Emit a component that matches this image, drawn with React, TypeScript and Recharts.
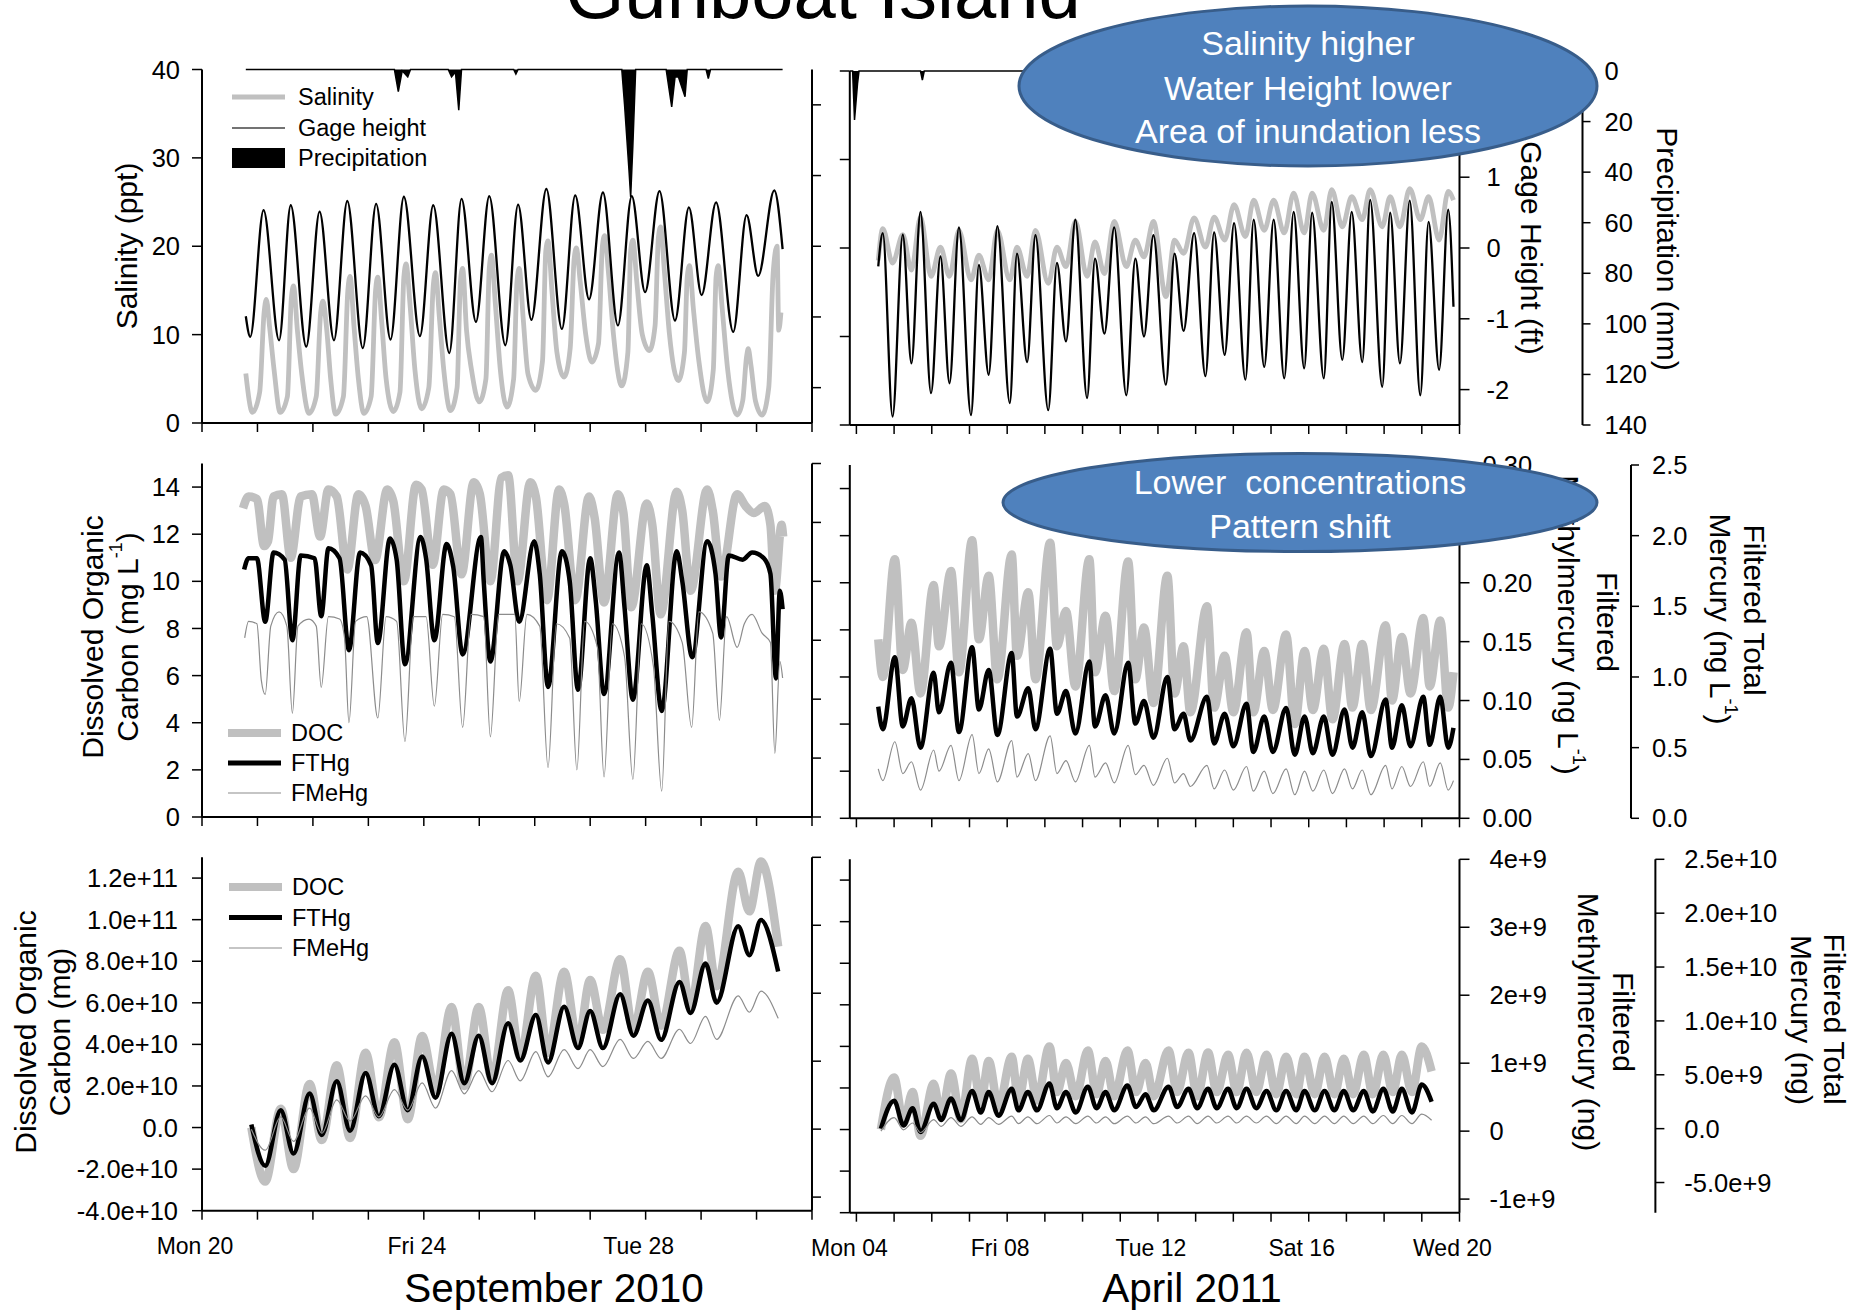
import React from 'react';
import { ComposedChart, Line, Area, XAxis, YAxis } from 'recharts';

const FONT = 'Liberation Sans, Arial, Helvetica, sans-serif';

// x values are days since the first labelled midnight of each period
const sepDayTicks = [0, 1, 2, 3, 4, 5, 6, 7, 8, 9, 10, 11];
const sepDayLabels: Record<number, string> = { 0: 'Mon 20', 4: 'Fri 24', 8: 'Tue 28' };
const aprDayTicks = [0, 1, 2, 3, 4, 5, 6, 7, 8, 9, 10, 11, 12, 13, 14, 15, 16];
const aprDayLabels: Record<number, string> = { 0: 'Mon 04', 4: 'Fri 08', 8: 'Tue 12', 12: 'Sat 16', 16: 'Wed 20' };

// ---------- September 2010, hydrology ----------
const sepGage = [
  [0.79, -0.99], [0.87, -1.28], [1.11, 0.51], [1.39, -1.33], [1.60, 0.58], [1.88, -1.42], [2.12, 0.49], [2.38, -1.33],
  [2.62, 0.64], [2.90, -1.44], [3.14, 0.60], [3.40, -1.32], [3.64, 0.70], [3.93, -1.27], [4.17, 0.58], [4.46, -1.51],
  [4.68, 0.67], [4.94, -1.07], [5.18, 0.71], [5.47, -1.40], [5.70, 0.59], [5.94, -1.04], [6.21, 0.81], [6.49, -1.17],
  [6.73, 0.72], [6.98, -0.75], [7.23, 0.76], [7.50, -1.12], [7.75, 0.71], [7.99, -0.65], [8.25, 0.78], [8.53, -1.05],
  [8.78, 0.55], [9.01, -0.69], [9.27, 0.62], [9.58, -1.21], [9.82, 0.44], [10.03, -0.42], [10.32, 0.79], [10.47, -0.04],
];
const sepSalinity = [
  [0.79, 5.6], [0.91, 1.2], [1.04, 3.5], [1.12, 12.5], [1.16, 14.0], [1.22, 10.8], [1.30, 6.0], [1.41, 1.2],
  [1.54, 3.0], [1.61, 14.0], [1.65, 15.5], [1.72, 10.5], [1.80, 5.5], [1.93, 1.1],
  [2.06, 3.0], [2.14, 12.5], [2.18, 13.8], [2.25, 10.5], [2.32, 5.0], [2.41, 1.0],
  [2.55, 3.0], [2.63, 15.0], [2.67, 16.6], [2.74, 11.0], [2.82, 5.0], [2.92, 1.1],
  [3.05, 3.0], [3.13, 15.0], [3.17, 16.5], [3.24, 11.5], [3.32, 5.0], [3.45, 1.3],
  [3.57, 3.5], [3.64, 16.5], [3.68, 18.0], [3.75, 13.5], [3.84, 6.0], [3.96, 1.6],
  [4.09, 4.0], [4.17, 15.5], [4.21, 17.0], [4.28, 12.0], [4.36, 6.0], [4.48, 1.4],
  [4.60, 4.0], [4.66, 16.0], [4.70, 17.5], [4.77, 10.5], [4.86, 6.0], [5.00, 2.4],
  [5.12, 5.0], [5.18, 17.5], [5.22, 19.0], [5.29, 13.5], [5.38, 6.0], [5.50, 1.8],
  [5.62, 5.0], [5.68, 16.0], [5.72, 17.5], [5.79, 12.0], [5.88, 5.5], [6.02, 3.7],
  [6.14, 7.0], [6.20, 19.5], [6.24, 20.6], [6.31, 15.0], [6.40, 8.0], [6.53, 5.2],
  [6.64, 8.5], [6.71, 18.5], [6.75, 19.8], [6.82, 16.0], [6.92, 10.0], [7.03, 6.9],
  [7.15, 9.0], [7.22, 20.0], [7.26, 21.2], [7.33, 17.0], [7.42, 10.0], [7.57, 4.2],
  [7.68, 8.0], [7.73, 19.5], [7.77, 20.7], [7.84, 16.0], [7.94, 10.0], [8.07, 8.2],
  [8.17, 11.0], [8.23, 21.0], [8.27, 22.2], [8.34, 17.0], [8.43, 10.0], [8.59, 4.8],
  [8.70, 8.0], [8.75, 16.5], [8.79, 17.8], [8.86, 13.0], [8.96, 7.0], [9.11, 2.4],
  [9.22, 6.0], [9.27, 16.5], [9.31, 17.8], [9.38, 13.0], [9.48, 6.0], [9.65, 0.9],
  [9.75, 2.5], [9.82, 7.5], [9.85, 8.4], [9.90, 6.5], [9.98, 2.5], [10.10, 0.9],
  [10.22, 4.0], [10.30, 17.0], [10.37, 20.0], [10.40, 10.5], [10.44, 12.5],
];
const sepPrecip = [
  [0.79, 0], [3.47, 0], [3.54, 8.8], [3.61, 0.5], [3.71, 2.9], [3.76, 0], [4.44, 0], [4.50, 2.9], [4.57, 1.0],
  [4.63, 16.1], [4.68, 0], [5.62, 0], [5.66, 1.8], [5.70, 0], [7.57, 0], [7.62, 14.0], [7.70, 40.0], [7.73, 50.5],
  [7.77, 30.0], [7.82, 0], [8.37, 0], [8.47, 14.8], [8.53, 3.0], [8.59, 2.9], [8.71, 10.8], [8.75, 0],
  [9.09, 0], [9.13, 3.6], [9.17, 0], [10.47, 0],
];

// ---------- April 2011, hydrology ----------
const aprHydroTime = [
  0.58, 0.70, 0.96, 1.23, 1.46, 1.70, 1.98, 2.23, 2.47, 2.72, 3.04, 3.25, 3.51, 3.74, 4.07, 4.26, 4.53, 4.75, 5.09, 5.32,
  5.56, 5.81, 6.12, 6.33, 6.58, 6.84, 7.16, 7.40, 7.63, 7.88, 8.21, 8.44, 8.68, 8.96, 9.26, 9.49, 9.77, 10.02, 10.32, 10.54,
  10.82, 11.07, 11.35, 11.60, 11.88, 12.09, 12.40, 12.61, 12.89, 13.14, 13.42, 13.63, 13.95, 14.16, 14.42, 14.68, 14.96, 15.18, 15.46, 15.70,
  15.84,
];
const aprGage = [
  -0.26, 0.21, -2.38, 0.19, -1.63, 0.51, -2.05, -0.12, -1.91, 0.29, -2.36, -0.24, -1.79, 0.31, -2.19, -0.08, -1.61, 0.18, -2.29, -0.21,
  -1.32, 0.40, -2.12, -0.15, -1.21, 0.29, -2.08, -0.15, -1.25, 0.18, -1.93, -0.08, -1.17, 0.21, -1.81, 0.22, -1.51, 0.35, -1.86, 0.40,
  -1.68, 0.40, -1.84, 0.51, -1.70, 0.50, -1.84, 0.65, -1.58, 0.51, -1.61, 0.68, -1.96, 0.50, -1.63, 0.67, -2.08, 0.37, -1.72, 0.54,
  -0.83,
];
const aprSalinity = [
  18.6, 22.2, 18.3, 21.5, 17.5, 23.5, 16.8, 20.1, 16.8, 22.0, 16.4, 19.2, 16.4, 22.0, 16.4, 20.1, 16.8, 22.0, 16.0, 20.1,
  17.9, 23.0, 16.8, 20.7, 17.1, 23.0, 17.9, 20.9, 19.0, 23.0, 14.5, 20.9, 19.4, 23.4, 20.1, 23.5, 20.9, 24.9, 21.3, 25.4,
  22.0, 25.4, 21.7, 26.2, 21.7, 26.2, 22.0, 26.6, 22.4, 25.8, 23.2, 26.6, 22.4, 25.8, 22.4, 26.7, 23.2, 25.8, 20.9, 26.4,
  25.4,
];
const aprPrecip = [[-0.17, 0], [-0.1, 0], [-0.05, 19.4], [0.03, 5], [0.07, 0], [1.70, 0], [1.75, 3.6], [1.80, 0], [15.84, 0]];

// ---------- September 2010, concentrations ----------
const sepDoc = [
  [0.74, 13.1], [0.84, 13.6], [0.99, 13.5], [1.12, 11.5], [1.19, 11.7], [1.29, 13.6], [1.44, 13.7], [1.60, 11.0],
  [1.78, 13.6], [1.98, 13.7], [2.13, 11.9], [2.28, 13.9], [2.43, 13.6], [2.62, 10.5], [2.82, 13.7], [2.95, 13.2],
  [3.12, 10.9], [3.34, 13.9], [3.45, 13.4], [3.64, 10.0], [3.86, 14.1], [3.96, 13.9], [4.16, 10.7], [4.36, 13.9],
  [4.48, 13.7], [4.68, 10.3], [4.90, 14.2], [5.01, 13.7], [5.20, 10.0], [5.40, 14.4], [5.52, 14.5], [5.69, 10.0],
  [5.92, 14.2], [6.02, 13.6], [6.22, 9.2], [6.44, 13.9], [6.53, 13.3], [6.73, 9.2], [6.98, 13.6], [7.08, 12.7],
  [7.25, 9.1], [7.50, 13.7], [7.60, 12.9], [7.74, 8.9], [8.02, 13.3], [8.12, 12.4], [8.27, 8.6], [8.56, 13.8],
  [8.66, 13.0], [8.81, 9.6], [9.11, 13.9], [9.21, 13.0], [9.36, 10.2], [9.65, 13.7], [9.80, 13.2], [9.95, 12.9],
  [10.15, 13.2], [10.25, 12.4], [10.33, 9.6], [10.45, 12.4], [10.48, 11.9],
];
const sepFthg = [
  [0.76, 1.75], [0.84, 1.83], [0.99, 1.83], [1.14, 1.38], [1.29, 1.87], [1.49, 1.82], [1.63, 1.25], [1.78, 1.85],
  [2.03, 1.83], [2.15, 1.42], [2.28, 1.90], [2.48, 1.83], [2.65, 1.18], [2.85, 1.87], [3.05, 1.78], [3.17, 1.23],
  [3.39, 1.97], [3.51, 1.82], [3.66, 1.08], [3.94, 1.98], [4.04, 1.83], [4.19, 1.25], [4.41, 1.93], [4.53, 1.77],
  [4.70, 1.15], [5.03, 1.98], [5.08, 1.67], [5.20, 1.10], [5.45, 1.88], [5.56, 1.78], [5.72, 1.38], [5.99, 1.95],
  [6.09, 1.72], [6.24, 0.92], [6.49, 1.88], [6.63, 1.67], [6.78, 0.90], [7.00, 1.83], [7.10, 1.53], [7.25, 0.87],
  [7.52, 1.87], [7.62, 1.48], [7.77, 0.83], [8.02, 1.78], [8.12, 1.43], [8.29, 0.75], [8.56, 1.88], [8.66, 1.67],
  [8.84, 1.13], [9.11, 1.95], [9.26, 1.72], [9.36, 1.27], [9.50, 1.85], [9.75, 1.82], [9.92, 1.87], [10.13, 1.83],
  [10.25, 1.72], [10.35, 0.98], [10.42, 1.60], [10.47, 1.47],
];
const sepFmehg = [
  [0.77, 0.152], [0.84, 0.166], [0.99, 0.164], [1.07, 0.116], [1.14, 0.104], [1.24, 0.162], [1.39, 0.174], [1.53, 0.162],
  [1.63, 0.088], [1.73, 0.162], [1.93, 0.168], [2.06, 0.162], [2.15, 0.110], [2.28, 0.170], [2.48, 0.168], [2.57, 0.152],
  [2.65, 0.080], [2.77, 0.166], [2.97, 0.170], [3.17, 0.084], [3.32, 0.170], [3.51, 0.166], [3.66, 0.064], [3.81, 0.170],
  [4.04, 0.170], [4.19, 0.094], [4.34, 0.172], [4.55, 0.170], [4.70, 0.076], [4.85, 0.172], [5.08, 0.170], [5.20, 0.068],
  [5.35, 0.172], [5.64, 0.172], [5.72, 0.098], [5.86, 0.172], [6.09, 0.162], [6.24, 0.042], [6.39, 0.164], [6.63, 0.152],
  [6.76, 0.040], [6.90, 0.166], [7.13, 0.144], [7.25, 0.034], [7.40, 0.164], [7.62, 0.136], [7.77, 0.032], [7.92, 0.164],
  [8.14, 0.128], [8.29, 0.022], [8.42, 0.166], [8.66, 0.148], [8.83, 0.076], [8.96, 0.174], [9.21, 0.156], [9.33, 0.082],
  [9.46, 0.170], [9.65, 0.144], [9.78, 0.164], [9.92, 0.172], [10.10, 0.156], [10.25, 0.148], [10.33, 0.054], [10.42, 0.132],
  [10.47, 0.118],
];

// ---------- April 2011, concentrations ----------
const aprConcTime = [
  0.58, 0.70, 1.02, 1.23, 1.46, 1.70, 2.05, 2.19, 2.51, 2.72, 3.07, 3.25, 3.51, 3.74, 4.12, 4.26, 4.56, 4.75, 5.14, 5.32,
  5.56, 5.81, 6.18, 6.33, 6.61, 6.84, 7.21, 7.40, 7.63, 7.88, 8.25, 8.44, 8.68, 8.86, 9.30, 9.49, 9.77, 10.00, 10.35, 10.53,
  10.82, 11.05, 11.40, 11.63, 11.89, 12.11, 12.40, 12.63, 12.95, 13.16, 13.42, 13.65, 14.04, 14.21, 14.47, 14.70, 15.04, 15.21, 15.49, 15.70,
  15.84,
];
const aprDoc = [
  7.6, 6.0, 11.0, 6.3, 8.3, 5.3, 9.9, 7.3, 10.5, 6.2, 11.8, 7.6, 10.3, 5.9, 11.2, 6.9, 9.6, 5.9, 11.7, 7.3,
  8.8, 5.6, 11.0, 6.2, 8.6, 5.4, 10.9, 5.9, 8.1, 4.9, 10.3, 5.3, 7.3, 4.5, 9.0, 4.7, 6.9, 4.5, 7.9, 4.5,
  7.1, 4.6, 7.8, 4.0, 7.1, 4.6, 7.2, 4.2, 7.4, 4.7, 7.4, 4.6, 8.2, 5.0, 7.7, 5.3, 8.5, 5.6, 8.4, 4.7,
  6.2,
];
const aprFthg = [
  0.79, 0.63, 1.14, 0.65, 0.85, 0.50, 1.03, 0.75, 1.10, 0.61, 1.21, 0.77, 1.05, 0.59, 1.17, 0.72, 0.92, 0.63, 1.20, 0.74,
  0.90, 0.60, 1.11, 0.65, 0.87, 0.60, 1.10, 0.67, 0.83, 0.57, 1.00, 0.63, 0.74, 0.55, 0.86, 0.53, 0.74, 0.51, 0.81, 0.47,
  0.72, 0.47, 0.78, 0.45, 0.72, 0.46, 0.72, 0.45, 0.77, 0.50, 0.75, 0.44, 0.84, 0.50, 0.80, 0.51, 0.86, 0.52, 0.86, 0.50,
  0.64,
];
const aprFmehg = [
  0.042, 0.032, 0.065, 0.038, 0.048, 0.024, 0.058, 0.040, 0.062, 0.032, 0.071, 0.038, 0.059, 0.031, 0.066, 0.035, 0.055, 0.032, 0.070, 0.038,
  0.049, 0.031, 0.062, 0.035, 0.047, 0.030, 0.062, 0.037, 0.045, 0.028, 0.051, 0.030, 0.038, 0.027, 0.045, 0.025, 0.041, 0.024, 0.044, 0.023,
  0.040, 0.021, 0.042, 0.020, 0.040, 0.023, 0.041, 0.021, 0.042, 0.025, 0.041, 0.020, 0.045, 0.025, 0.044, 0.027, 0.048, 0.027, 0.047, 0.024,
  0.032,
];

// ---------- cumulative loads: DOC in 1e10 mg, FTHg / FMeHg in 1e9 ng ----------
const sepLoadTime = [
  0.89, 1.14, 1.42, 1.65, 1.94, 2.16, 2.43, 2.67, 2.95, 3.19, 3.47, 3.71, 3.97, 4.21, 4.50, 4.73, 4.99, 5.23, 5.52, 5.74,
  6.02, 6.24, 6.53, 6.78, 7.00, 7.23, 7.54, 7.78, 8.04, 8.28, 8.61, 8.81, 9.08, 9.28, 9.67, 9.87, 10.08, 10.39,
];
const sepDocLoad = [
  0, -2.6, 0.9, -2.0, 2.1, -0.6, 3.0, -0.5, 3.6, 0.5, 4.1, 0.4, 4.4, 1.8, 5.8, 2.0, 5.8, 2.3, 6.6, 3.4,
  7.3, 3.6, 7.5, 4.1, 7.1, 4.7, 8.1, 4.7, 7.5, 4.9, 8.5, 5.8, 9.7, 6.8, 12.3, 10.4, 12.8, 8.7,
];
const sepFthgLoad = [
  0.19, -3.64, 1.53, -2.49, 3.07, -0.77, 4.22, -0.38, 4.99, 0.96, 5.75, 1.53, 6.52, 2.69, 8.63, 4.03, 8.44, 4.03, 9.59, 6.14,
  10.36, 5.95, 11.12, 7.29, 10.74, 7.29, 12.28, 8.44, 11.70, 8.06, 13.43, 10.55, 15.15, 11.51, 18.60, 15.92, 19.18, 14.39,
];
const sepFmehgLoad = [
  0, -0.31, 0.18, -0.18, 0.31, -0.06, 0.43, 0.12, 0.49, 0.18, 0.58, 0.28, 0.68, 0.31, 0.86, 0.52, 0.86, 0.55, 1.01, 0.71,
  1.14, 0.77, 1.17, 0.89, 1.17, 0.92, 1.32, 1.04, 1.29, 1.04, 1.47, 1.26, 1.66, 1.32, 1.96, 1.72, 2.03, 1.63,
];
const aprLoadTime = [
  0.65, 1.00, 1.25, 1.49, 1.70, 2.05, 2.25, 2.51, 2.77, 3.07, 3.30, 3.51, 3.77, 4.12, 4.30, 4.55, 4.79, 5.12, 5.32, 5.56,
  5.82, 6.14, 6.37, 6.61, 6.84, 7.19, 7.42, 7.67, 7.89, 8.28, 8.51, 8.81, 9.04, 9.33, 9.56, 9.86, 10.09, 10.35, 10.61, 10.88,
  11.14, 11.40, 11.67, 11.89, 12.16, 12.42, 12.68, 12.93, 13.18, 13.46, 13.70, 13.98, 14.23, 14.47, 14.74, 15.00, 15.26,
];
const aprDocLoad = [
  0, 2.5, 0.3, 1.8, -0.3, 2.2, 0.6, 2.7, 0.5, 3.4, 1.3, 3.3, 1.1, 3.5, 1.4, 3.4, 1.4, 4.0, 1.8, 3.2,
  1.6, 3.8, 1.7, 3.3, 1.6, 3.8, 1.8, 3.2, 1.6, 3.8, 1.8, 3.7, 1.6, 3.7, 1.8, 3.6, 1.8, 3.7, 1.8, 3.6,
  1.7, 3.5, 1.7, 3.5, 1.7, 3.5, 1.7, 3.4, 1.7, 3.6, 1.7, 3.6, 1.8, 3.6, 1.8, 4.0, 2.8,
];
const aprFthgLoad = [
  0, 2.6, 0.3, 1.9, -0.3, 2.3, 0.8, 2.8, 0.8, 3.5, 1.5, 3.4, 1.2, 3.7, 1.7, 3.4, 1.7, 4.2, 1.9, 3.4,
  1.5, 3.9, 1.9, 3.4, 1.7, 4.0, 2.0, 3.2, 1.7, 3.9, 2.0, 3.7, 1.9, 3.7, 1.9, 3.7, 1.9, 3.7, 1.9, 3.5,
  1.7, 3.5, 1.7, 3.5, 1.7, 3.5, 1.7, 3.5, 1.7, 3.5, 1.6, 3.7, 1.6, 3.7, 1.5, 4.1, 2.5,
];
const aprFmehgLoad = [
  0, 0.20, 0.02, 0.12, -0.02, 0.17, 0.07, 0.20, 0.07, 0.21, 0.10, 0.20, 0.10, 0.22, 0.11, 0.21, 0.11, 0.23, 0.12, 0.21,
  0.11, 0.22, 0.12, 0.21, 0.11, 0.22, 0.12, 0.21, 0.11, 0.22, 0.12, 0.22, 0.11, 0.22, 0.12, 0.22, 0.12, 0.22, 0.12, 0.22,
  0.11, 0.22, 0.11, 0.22, 0.11, 0.22, 0.11, 0.22, 0.11, 0.22, 0.11, 0.23, 0.11, 0.23, 0.11, 0.25, 0.16,
];

const pairs = (a: number[][]) => a.map(([x, y]) => ({ x, y }));
const zip = (t: number[], v: number[]) => t.map((x, i) => ({ x, y: v[i] }));

const axisLine = { stroke: '#000', strokeWidth: 2 };
const tickLine = { stroke: '#000', strokeWidth: 1.5 };
const tickStyle = { fontSize: 23, fill: '#000', fontFamily: FONT };
const yTickStyle = { fontSize: 25.5, fill: '#000', fontFamily: FONT };
const blank = () => '';
const sci = (v: number) => {
  if (v === 0) return '0.0';
  const e = Math.floor(Math.log10(Math.abs(v)) + 1e-9);
  return `${(v / Math.pow(10, e)).toFixed(1)}e+${e}`;
};

const GRAY = '#c0c0c0';
const THIN = '#8c8c8c';

const lineProps = { type: 'monotone' as const, dataKey: 'y', dot: false, activeDot: false, isAnimationActive: false, strokeLinejoin: 'round' as const };

const sepX = (labels: boolean) => (
  <XAxis xAxisId="b" dataKey="x" type="number" domain={[0, 11]} ticks={sepDayTicks} interval={0}
    tickFormatter={labels ? (v: number) => sepDayLabels[v] ?? '' : blank}
    height={labels ? 60 : 20} tickSize={9} tickMargin={18} tick={{ ...tickStyle, dx: -7 }} axisLine={axisLine} tickLine={tickLine} />
);
const aprX = (labels: boolean) => (
  <XAxis xAxisId="b" dataKey="x" type="number" domain={[-0.175, 16]} ticks={aprDayTicks} interval={0}
    tickFormatter={labels ? (v: number) => aprDayLabels[v] ?? '' : blank}
    height={labels ? 60 : 20} tickSize={9} tickMargin={18} tick={{ ...tickStyle, dx: -7 }} axisLine={axisLine} tickLine={tickLine} />
);
const topX = (domain: number[]) => (
  <XAxis xAxisId="t" orientation="top" type="number" domain={domain} tick={false} tickLine={false} height={0} axisLine={axisLine} />
);

const Box = ({ left, top, children }: { left: number; top: number; children: React.ReactNode }) => (
  <div style={{ position: 'absolute', left, top }}>{children}</div>
);

const RotText = ({ x, y, rot, children, size = 30 }: { x: number; y: number; rot: number; children: React.ReactNode; size?: number }) => (
  <text transform={`translate(${x},${y}) rotate(${rot})`} textAnchor="middle" dominantBaseline="central" fontSize={size} fontFamily={FONT} fill="#000">
    {children}
  </text>
);
const Sup = () => (
  <>
    <tspan dy={-11} fontSize={18}>-1</tspan>
    <tspan dy={11}>)</tspan>
  </>
);

const Legend3 = ({ x, y, gap }: { x: number; y: number; gap: number }) => (
  <g fontFamily={FONT} fontSize={23.5}>
    <line x1={x} x2={x + 53} y1={y} y2={y} stroke={GRAY} strokeWidth={8} />
    <text x={x + 63} y={y} dominantBaseline="central">DOC</text>
    <line x1={x} x2={x + 53} y1={y + gap} y2={y + gap} stroke="#000" strokeWidth={5} />
    <text x={x + 63} y={y + gap} dominantBaseline="central">FTHg</text>
    <line x1={x} x2={x + 53} y1={y + 2 * gap} y2={y + 2 * gap} stroke={THIN} strokeWidth={1.2} />
    <text x={x + 63} y={y + 2 * gap} dominantBaseline="central">FMeHg</text>
  </g>
);

export default function App() {
  return (
    <div style={{ position: 'absolute', left: 0, top: 0, width: 1858, height: 1311, background: '#fff', overflow: 'hidden' }}>
      {/* top left: September salinity / gage / precipitation */}
      <Box left={0} top={0}>
        <ComposedChart width={852} height={443} margin={{ top: 69.5, right: 0, bottom: 0, left: 0 }}>
          {sepX(false)}
          {topX([0, 11])}
          <YAxis yAxisId="sal" domain={[0, 40]} ticks={[0, 10, 20, 30, 40]} interval={0} width={202} tickSize={10} tickMargin={12} tick={yTickStyle} axisLine={axisLine} tickLine={tickLine} />
          <YAxis yAxisId="gage" orientation="right" domain={[-2.5, 2.5]} ticks={[-2, -1, 0, 1, 2]} interval={0} width={40} tickFormatter={blank} tickSize={9} axisLine={axisLine} tickLine={tickLine} />
          <YAxis yAxisId="pr" hide reversed domain={[0, 140]} width={0} />
          <Line {...lineProps} xAxisId="b" yAxisId="sal" data={pairs(sepSalinity)} stroke={GRAY} strokeWidth={4.8} />
          <Line {...lineProps} xAxisId="b" yAxisId="gage" data={pairs(sepGage)} stroke="#000" strokeWidth={2.3} />
          <Area xAxisId="b" yAxisId="pr" data={pairs(sepPrecip)} dataKey="y" type="linear" baseValue={0} stroke="#000" strokeWidth={1.5} fill="#000" fillOpacity={1} isAnimationActive={false} dot={false} activeDot={false} />
        </ComposedChart>
      </Box>

      {/* top right: April */}
      <Box left={800} top={0}>
        <ComposedChart width={862.5} height={445} margin={{ top: 71, right: 0, bottom: 0, left: 0 }}>
          {aprX(false)}
          {topX([-0.175, 16])}
          <YAxis yAxisId="sal" domain={[0, 40]} ticks={[0, 10, 20, 30, 40]} interval={0} width={49.8} tickFormatter={blank} tickSize={10} axisLine={axisLine} tickLine={tickLine} />
          <YAxis yAxisId="gage" orientation="right" domain={[-2.5, 2.5]} ticks={[-2, -1, 0, 1, 2]} interval={0} width={123} tickSize={10} tickMargin={17} tick={yTickStyle} axisLine={axisLine} tickLine={tickLine} />
          <YAxis yAxisId="pr" orientation="right" reversed domain={[0, 140]} ticks={[0, 20, 40, 60, 80, 100, 120, 140]} interval={0} width={80} tickSize={8} tickMargin={14} tick={yTickStyle} axisLine={axisLine} tickLine={tickLine} />
          <Line {...lineProps} xAxisId="b" yAxisId="sal" data={zip(aprHydroTime, aprSalinity)} stroke={GRAY} strokeWidth={4.8} />
          <Line {...lineProps} xAxisId="b" yAxisId="gage" data={zip(aprHydroTime, aprGage)} stroke="#000" strokeWidth={2.3} />
          <Area xAxisId="b" yAxisId="pr" data={pairs(aprPrecip)} dataKey="y" type="linear" baseValue={0} stroke="#000" strokeWidth={1.5} fill="#000" fillOpacity={1} isAnimationActive={false} dot={false} activeDot={false} />
        </ComposedChart>
      </Box>

      {/* middle left: September concentrations */}
      <Box left={0} top={440}>
        <ComposedChart width={852} height={397} margin={{ top: 23.5, right: 0, bottom: 0, left: 0 }}>
          {sepX(false)}
          {topX([0, 11])}
          <YAxis yAxisId="doc" domain={[0, 15]} ticks={[0, 2, 4, 6, 8, 10, 12, 14]} interval={0} width={202} tickSize={10} tickMargin={12} tick={yTickStyle} axisLine={axisLine} tickLine={tickLine} />
          <YAxis yAxisId="me" orientation="right" domain={[0, 0.3]} ticks={[0, 0.05, 0.1, 0.15, 0.2, 0.25, 0.3]} interval={0} width={40} tickFormatter={blank} tickSize={9} axisLine={axisLine} tickLine={tickLine} />
          <YAxis yAxisId="th" hide domain={[0, 2.5]} width={0} />
          <Line {...lineProps} xAxisId="b" yAxisId="doc" data={pairs(sepDoc)} stroke={GRAY} strokeWidth={8.5} />
          <Line {...lineProps} xAxisId="b" yAxisId="th" data={pairs(sepFthg)} stroke="#000" strokeWidth={4.5} />
          <Line {...lineProps} xAxisId="b" yAxisId="me" data={pairs(sepFmehg)} stroke={THIN} strokeWidth={1.2} />
        </ComposedChart>
      </Box>

      {/* middle right: April concentrations */}
      <Box left={800} top={440}>
        <ComposedChart width={911} height={398.3} margin={{ top: 25, right: 0, bottom: 0, left: 0 }}>
          {aprX(false)}
          {topX([-0.175, 16])}
          <YAxis yAxisId="doc" domain={[0, 15]} ticks={[0, 2, 4, 6, 8, 10, 12, 14]} interval={0} width={49.8} tickFormatter={blank} tickSize={10} axisLine={axisLine} tickLine={tickLine} />
          <YAxis yAxisId="me" orientation="right" domain={[0, 0.3]} ticks={[0, 0.05, 0.1, 0.15, 0.2, 0.25, 0.3]} interval={0} width={171.5} tickFormatter={(v: number) => v.toFixed(2)} tickSize={10} tickMargin={13} tick={yTickStyle} axisLine={axisLine} tickLine={tickLine} />
          <YAxis yAxisId="th" orientation="right" domain={[0, 2.5]} ticks={[0, 0.5, 1, 1.5, 2, 2.5]} interval={0} width={80} tickFormatter={(v: number) => v.toFixed(1)} tickSize={8} tickMargin={13} tick={yTickStyle} axisLine={axisLine} tickLine={tickLine} />
          <Line {...lineProps} xAxisId="b" yAxisId="doc" data={zip(aprConcTime, aprDoc)} stroke={GRAY} strokeWidth={8.5} />
          <Line {...lineProps} xAxisId="b" yAxisId="th" data={zip(aprConcTime, aprFthg)} stroke="#000" strokeWidth={4.5} />
          <Line {...lineProps} xAxisId="b" yAxisId="me" data={zip(aprConcTime, aprFmehg)} stroke={THIN} strokeWidth={1.2} />
        </ComposedChart>
      </Box>

      {/* bottom left: September loads */}
      <Box left={0} top={840}>
        <ComposedChart width={852} height={430.7} margin={{ top: 17.3, right: 0, bottom: 0, left: 0 }}>
          {sepX(true)}
          {topX([0, 11])}
          <YAxis yAxisId="doc" domain={[-4, 13]} ticks={[-4, -2, 0, 2, 4, 6, 8, 10, 12]} interval={0} width={202} tickFormatter={(v: number) => sci(v * 1e10)} tickSize={10} tickMargin={14} tick={yTickStyle} axisLine={axisLine} tickLine={tickLine} />
          <YAxis yAxisId="me" orientation="right" domain={[-1.2, 4]} ticks={[-1, 0, 1, 2, 3, 4]} interval={0} width={40} tickFormatter={blank} tickSize={9} axisLine={axisLine} tickLine={tickLine} />
          <YAxis yAxisId="th" hide domain={[-7.8, 25]} width={0} />
          <Line {...lineProps} xAxisId="b" yAxisId="doc" data={zip(sepLoadTime, sepDocLoad)} stroke={GRAY} strokeWidth={8.5} />
          <Line {...lineProps} xAxisId="b" yAxisId="th" data={zip(sepLoadTime, sepFthgLoad)} stroke="#000" strokeWidth={4.5} />
          <Line {...lineProps} xAxisId="b" yAxisId="me" data={zip(sepLoadTime, sepFmehgLoad)} stroke={THIN} strokeWidth={1.2} />
        </ComposedChart>
      </Box>

      {/* bottom right: April loads */}
      <Box left={800} top={840}>
        <ComposedChart width={985.4} height={432.7} margin={{ top: 19.3, right: 0, bottom: 0, left: 0 }}>
          {aprX(true)}
          {topX([-0.175, 16])}
          <YAxis yAxisId="doc" domain={[-4, 13]} ticks={[-4, -2, 0, 2, 4, 6, 8, 10, 12]} interval={0} width={49.8} tickFormatter={blank} tickSize={10} axisLine={axisLine} tickLine={tickLine} />
          <YAxis yAxisId="me" orientation="right" domain={[-1.2, 4]} ticks={[-1, 0, 1, 2, 3, 4]} interval={0} width={195.9} tickFormatter={(v: number) => (v === 0 ? '0' : `${v}e+9`)} tickSize={10} tickMargin={20} tick={yTickStyle} axisLine={axisLine} tickLine={tickLine} />
          <YAxis yAxisId="th" orientation="right" domain={[-7.8, 25]} ticks={[-5, 0, 5, 10, 15, 20, 25]} interval={0} width={130} tickFormatter={(v: number) => sci(v * 1e9)} tickSize={9} tickMargin={20} tick={yTickStyle} axisLine={axisLine} tickLine={tickLine} />
          <Line {...lineProps} xAxisId="b" yAxisId="doc" data={zip(aprLoadTime, aprDocLoad)} stroke={GRAY} strokeWidth={8.5} />
          <Line {...lineProps} xAxisId="b" yAxisId="th" data={zip(aprLoadTime, aprFthgLoad)} stroke="#000" strokeWidth={4.5} />
          <Line {...lineProps} xAxisId="b" yAxisId="me" data={zip(aprLoadTime, aprFmehgLoad)} stroke={THIN} strokeWidth={1.2} />
        </ComposedChart>
      </Box>

      {/* titles, axis titles, legends and callouts */}
      <svg width={1858} height={1311} style={{ position: 'absolute', left: 0, top: 0, pointerEvents: 'none' }}>
        <text x={823} y={18} textAnchor="middle" fontSize={76} fontFamily={FONT}>Gunboat Island</text>

        <RotText x={126} y={246} rot={-90}>Salinity (ppt)</RotText>
        <RotText x={92} y={637} rot={-90}>Dissolved Organic</RotText>
        <RotText x={127} y={637} rot={-90}>Carbon (mg L<Sup /></RotText>
        <RotText x={25} y={1032} rot={-90}>Dissolved Organic</RotText>
        <RotText x={59} y={1032} rot={-90}>Carbon (mg)</RotText>

        <RotText x={1531} y={248} rot={90}>Gage Height (ft)</RotText>
        <RotText x={1667} y={249} rot={90}>Precipitation (mm)</RotText>
        <RotText x={1607} y={622} rot={90}>Filtered</RotText>
        <RotText x={1568} y={625} rot={90}>Methylmercury (ng L<Sup /></RotText>
        <RotText x={1754} y={610} rot={90}>Filtered Total</RotText>
        <RotText x={1720} y={619} rot={90}>Mercury (ng L<Sup /></RotText>
        <RotText x={1623} y={1022} rot={90}>Filtered</RotText>
        <RotText x={1588} y={1022} rot={90}>Methylmercury (ng)</RotText>
        <RotText x={1834} y={1019} rot={90}>Filtered Total</RotText>
        <RotText x={1801} y={1020} rot={90}>Mercury (ng)</RotText>

        <text x={554} y={1302} textAnchor="middle" fontSize={40.5} fontFamily={FONT}>September 2010</text>
        <text x={1192} y={1302} textAnchor="middle" fontSize={40.5} fontFamily={FONT}>April 2011</text>

        <g fontFamily={FONT} fontSize={23.5}>
          <line x1={232} x2={285} y1={97} y2={97} stroke={GRAY} strokeWidth={5} />
          <text x={298} y={97} dominantBaseline="central">Salinity</text>
          <line x1={232} x2={285} y1={128} y2={128} stroke="#444" strokeWidth={1.5} />
          <text x={298} y={128} dominantBaseline="central">Gage height</text>
          <rect x={232} y={148} width={53} height={20} fill="#000" />
          <text x={298} y={158} dominantBaseline="central">Precipitation</text>
        </g>
        <Legend3 x={228} y={733} gap={30} />
        <Legend3 x={229} y={887} gap={30.5} />

        <ellipse cx={1308} cy={86} rx={289} ry={80} fill="#4f81bd" stroke="#385d8a" strokeWidth={3} />
        <g fill="#fff" fontFamily={FONT} fontSize={34} textAnchor="middle">
          <text x={1308} y={43} dominantBaseline="central">Salinity higher</text>
          <text x={1308} y={88} dominantBaseline="central">Water Height lower</text>
          <text x={1308} y={131} dominantBaseline="central">Area of inundation less</text>
        </g>
        <ellipse cx={1300} cy={502.5} rx={297} ry={49} fill="#4f81bd" stroke="#385d8a" strokeWidth={3} />
        <g fill="#fff" fontFamily={FONT} fontSize={34} textAnchor="middle">
          <text x={1300} y={482} dominantBaseline="central" style={{ whiteSpace: 'pre' }}>Lower  concentrations</text>
          <text x={1300} y={526} dominantBaseline="central">Pattern shift</text>
        </g>
      </svg>
    </div>
  );
}
